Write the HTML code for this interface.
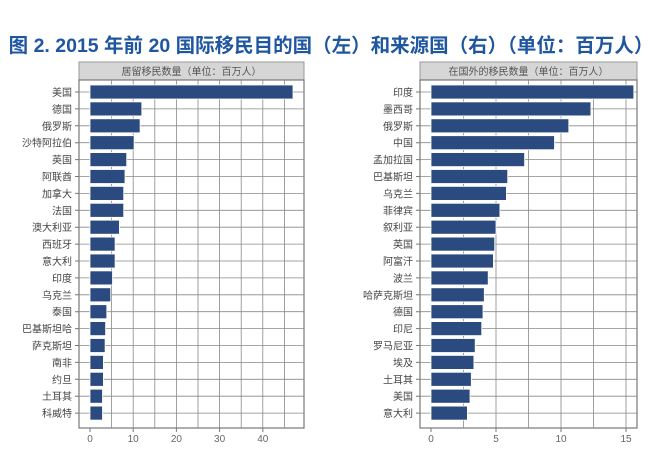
<!DOCTYPE html>
<html><head><meta charset="utf-8"><style>
body{margin:0;background:#fff;}
svg{display:block;font-family:"Liberation Sans","Noto Sans CJK SC",sans-serif;}
</style></head><body>
<svg width="663" height="460" viewBox="0 0 663 460" xmlns="http://www.w3.org/2000/svg">
<text x="331" y="52" text-anchor="middle" font-size="19.5" font-weight="bold" fill="#1f56a0">图 2. 2015 年前 20 国际移民目的国（左）和来源国（右）（单位：百万人）</text>

<!-- LEFT PANEL -->
<rect x="79" y="62" width="225" height="18" fill="#d6d6d6" stroke="#999"/>
<text x="191.5" y="75" text-anchor="middle" font-size="10" fill="#555">居留移民数量（单位：百万人）</text>
<rect x="79" y="80" width="225" height="348" fill="#fff" stroke="#777" stroke-width="1.2"/>
<g stroke="#888" stroke-width="0.8">
<path d="M111.6 80V428M133.2 80V428M154.8 80V428M176.4 80V428M198 80V428M219.6 80V428M241.2 80V428M262.8 80V428M284.4 80V428"/>
<path d="M79 92H304M79 108.9H304M79 125.8H304M79 142.7H304M79 159.6H304M79 176.5H304M79 193.4H304M79 210.3H304M79 227.2H304M79 244.1H304M79 261H304M79 277.9H304M79 294.8H304M79 311.7H304M79 328.6H304M79 345.5H304M79 362.4H304M79 379.3H304M79 396.2H304M79 413.1H304"/>
<path stroke="#777" stroke-width="1" d="M75 92H79M75 108.9H79M75 125.8H79M75 142.7H79M75 159.6H79M75 176.5H79M75 193.4H79M75 210.3H79M75 227.2H79M75 244.1H79M75 261H79M75 277.9H79M75 294.8H79M75 311.7H79M75 328.6H79M75 345.5H79M75 362.4H79M75 379.3H79M75 396.2H79M75 413.1H79M90 428V432M133.2 428V432M176.4 428V432M219.6 428V432M262.8 428V432"/>
</g>
<g font-size="10" fill="#444" text-anchor="end">
<text x="72" y="96">美国</text><text x="72" y="112.9">德国</text><text x="72" y="129.8">俄罗斯</text><text x="72" y="146.7">沙特阿拉伯</text><text x="72" y="163.6">英国</text><text x="72" y="180.5">阿联酋</text><text x="72" y="197.4">加拿大</text><text x="72" y="214.3">法国</text><text x="72" y="231.2">澳大利亚</text><text x="72" y="248.1">西班牙</text><text x="72" y="265">意大利</text><text x="72" y="281.9">印度</text><text x="72" y="298.8">乌克兰</text><text x="72" y="315.7">泰国</text><text x="72" y="332.6">巴基斯坦哈</text><text x="72" y="349.5">萨克斯坦</text><text x="72" y="366.4">南非</text><text x="72" y="383.3">约旦</text><text x="72" y="400.2">土耳其</text><text x="72" y="417.1">科威特</text>
</g>
<g fill="#2b4a80" stroke="#fff" stroke-width="0.8">
<rect x="90" y="85" width="203" height="14"/><rect x="90" y="101.9" width="51.8" height="14"/><rect x="90" y="118.8" width="50.1" height="14"/><rect x="90" y="135.7" width="44.1" height="14"/><rect x="90" y="152.6" width="36.7" height="14"/><rect x="90" y="169.5" width="35" height="14"/><rect x="90" y="186.4" width="33.7" height="14"/><rect x="90" y="203.3" width="33.7" height="14"/><rect x="90" y="220.2" width="29.4" height="14"/><rect x="90" y="237.1" width="25.1" height="14"/><rect x="90" y="254" width="25.1" height="14"/><rect x="90" y="270.9" width="22.5" height="14"/><rect x="90" y="287.8" width="20.7" height="14"/><rect x="90" y="304.7" width="16.8" height="14"/><rect x="90" y="321.6" width="15.6" height="14"/><rect x="90" y="338.5" width="15.1" height="14"/><rect x="90" y="355.4" width="13.4" height="14"/><rect x="90" y="372.3" width="13.4" height="14"/><rect x="90" y="389.2" width="12.5" height="14"/><rect x="90" y="406.1" width="12.5" height="14"/>
</g>
<g font-size="10" fill="#666" text-anchor="middle">
<text x="90" y="442">0</text><text x="133.2" y="442">10</text><text x="176.4" y="442">20</text><text x="219.6" y="442">30</text><text x="262.8" y="442">40</text>
</g>

<!-- RIGHT PANEL -->
<rect x="420" y="62" width="217" height="18" fill="#d6d6d6" stroke="#999"/>
<text x="528.5" y="75" text-anchor="middle" font-size="10" fill="#555">在国外的移民数量（单位：百万人）</text>
<rect x="420" y="80" width="217" height="348" fill="#fff" stroke="#777" stroke-width="1.2"/>
<g stroke="#888" stroke-width="0.8">
<path d="M463.5 80V428M496 80V428M528.5 80V428M561 80V428M593.5 80V428M626 80V428"/>
<path d="M420 92H637M420 108.9H637M420 125.8H637M420 142.7H637M420 159.6H637M420 176.5H637M420 193.4H637M420 210.3H637M420 227.2H637M420 244.1H637M420 261H637M420 277.9H637M420 294.8H637M420 311.7H637M420 328.6H637M420 345.5H637M420 362.4H637M420 379.3H637M420 396.2H637M420 413.1H637"/>
<path stroke="#777" stroke-width="1" d="M416 92H420M416 108.9H420M416 125.8H420M416 142.7H420M416 159.6H420M416 176.5H420M416 193.4H420M416 210.3H420M416 227.2H420M416 244.1H420M416 261H420M416 277.9H420M416 294.8H420M416 311.7H420M416 328.6H420M416 345.5H420M416 362.4H420M416 379.3H420M416 396.2H420M416 413.1H420M431 428V432M496 428V432M561 428V432M626 428V432"/>
</g>
<g font-size="10" fill="#444" text-anchor="end">
<text x="413" y="96">印度</text><text x="413" y="112.9">墨西哥</text><text x="413" y="129.8">俄罗斯</text><text x="413" y="146.7">中国</text><text x="413" y="163.6">孟加拉国</text><text x="413" y="180.5">巴基斯坦</text><text x="413" y="197.4">乌克兰</text><text x="413" y="214.3">菲律宾</text><text x="413" y="231.2">叙利亚</text><text x="413" y="248.1">英国</text><text x="413" y="265">阿富汗</text><text x="413" y="281.9">波兰</text><text x="413" y="298.8">哈萨克斯坦</text><text x="413" y="315.7">德国</text><text x="413" y="332.6">印尼</text><text x="413" y="349.5">罗马尼亚</text><text x="413" y="366.4">埃及</text><text x="413" y="383.3">土耳其</text><text x="413" y="400.2">美国</text><text x="413" y="417.1">意大利</text>
</g>
<g fill="#2b4a80" stroke="#fff" stroke-width="0.8">
<rect x="431" y="85" width="202.8" height="14"/><rect x="431" y="101.9" width="159.9" height="14"/><rect x="431" y="118.8" width="137.8" height="14"/><rect x="431" y="135.7" width="123.5" height="14"/><rect x="431" y="152.6" width="93.6" height="14"/><rect x="431" y="169.5" width="76.7" height="14"/><rect x="431" y="186.4" width="75.4" height="14"/><rect x="431" y="203.3" width="68.9" height="14"/><rect x="431" y="220.2" width="65" height="14"/><rect x="431" y="237.1" width="63.7" height="14"/><rect x="431" y="254" width="62.4" height="14"/><rect x="431" y="270.9" width="57.2" height="14"/><rect x="431" y="287.8" width="53.3" height="14"/><rect x="431" y="304.7" width="52" height="14"/><rect x="431" y="321.6" width="50.7" height="14"/><rect x="431" y="338.5" width="44.2" height="14"/><rect x="431" y="355.4" width="42.9" height="14"/><rect x="431" y="372.3" width="40.3" height="14"/><rect x="431" y="389.2" width="39" height="14"/><rect x="431" y="406.1" width="36.4" height="14"/>
</g>
<g font-size="10" fill="#666" text-anchor="middle">
<text x="431" y="442">0</text><text x="496" y="442">5</text><text x="561" y="442">10</text><text x="626" y="442">15</text>
</g>
</svg>
</body></html>
